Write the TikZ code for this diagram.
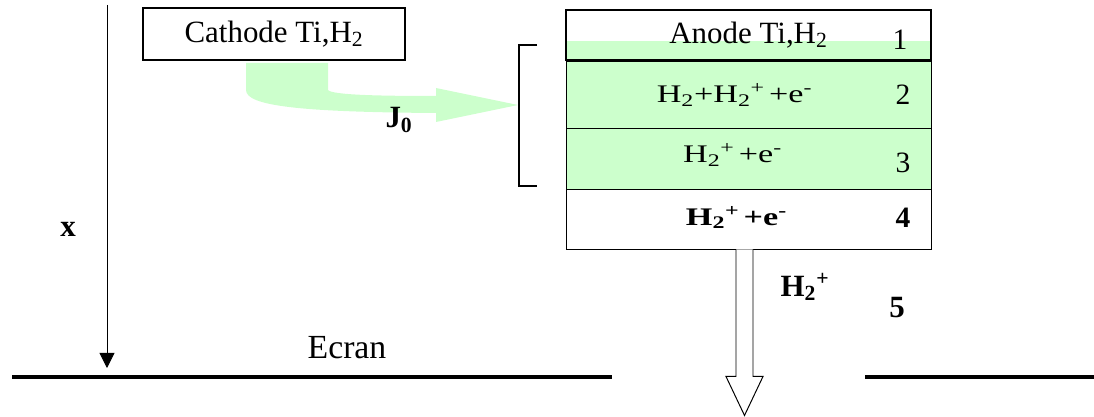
\documentclass[tikz,border=0pt]{standalone}
\usepackage{fontspec}
\setmainfont{Liberation Serif}
\newfontfamily\largo{Liberation Serif}[FakeStretch=1.35]
\usetikzlibrary{positioning, calc, arrows.meta}
\definecolor{verde}{HTML}{CCFFCC}
\newcommand{\Hdois}{H\textsubscript{2}}

\begin{document}
\begin{tikzpicture}[>={Triangle[length=0.375cm, width=0.375cm]}, node distance=0cm,
					camada/.style={draw, line width=0.7pt, minimum width=9.125cm, inner sep=0pt, outer sep=0pt},
					eletrodo/.style={draw, line width=2.1pt, inner sep=0pt, font=\fontsize{22}{25}\selectfont},
					formula/.style={inner sep=0pt, font=\largo\fontsize{18}{21}\selectfont},
					num/.style={inner sep=0pt, font=\fontsize{21}{24}\selectfont},
					rotulo/.style={inner sep=0pt, font=\bfseries\fontsize{22}{25}\selectfont} ]
	\useasboundingbox (0,0) rectangle (27.35,-10.425);

	%Eletrodos:
	\node[eletrodo, minimum width=6.55cm, minimum height=1.3cm] (catodo) at (6.85,-0.85) {Cathode Ti,\Hdois};
	\node[eletrodo, minimum width=9.125cm, minimum height=1.25cm,
		path picture={\fill[verde] ($(path picture bounding box.south west)+(0,0.475)$) rectangle (path picture bounding box.south east);}]
		(anodo) at (18.7125,-0.875) {Anode Ti,\Hdois};
	\node[num] (n1) at (22.5,-1.0) {1};

	%Camadas:
	\node[camada, fill=verde, minimum height=1.675cm, below=of anodo] (c2) {};
	\node[camada, fill=verde, minimum height=1.525cm, below=of c2] (c3) {};
	\node[camada, minimum height=1.5cm, below=of c3] (c4) {};
	\node[formula] (f2) at ($(c2.center)+(-0.35,0)$) {\Hdois+\Hdois\textsuperscript{+}\,+e\textsuperscript{-}};
	\node[formula] (f3) at ($(c3.center)+(-0.4,0.1)$) {\Hdois\textsuperscript{+}\,+e\textsuperscript{-}};
	\node[formula, font=\largo\bfseries\fontsize{18}{21}\selectfont] (f4) at ($(c4.center)+(-0.3,0.05)$) {\Hdois\textsuperscript{+}\,+e\textsuperscript{-}};
	\node[num] (n2) at ($(c2.east)+(-0.7,0)$) {2};
	\node[num] (n3) at ($(c3.east)+(-0.7,-0.1)$) {3};
	\node[num, font=\bfseries\fontsize{21}{24}\selectfont] (n4) at ($(c4.east)+(-0.7,0.05)$) {4};

	%Feixe J0 (catodo -> camadas)
	\fill[verde] (6.15,-1.575) -- (8.2,-1.575) -- (8.2,-2.25)
		.. controls (8.3,-2.38) and (9.6,-2.4) .. (10.9,-2.4) -- (10.9,-2.2) -- (12.95,-2.625)
		-- (10.9,-3.05) -- (10.9,-2.825) .. controls (7.5,-2.8) and (6.15,-2.65) .. (6.15,-2.25) -- cycle;
	\node[rotulo] (j0) at (9.975,-3.0) {J\textsubscript{0}};
	\draw[line width=1.1pt] (13.425,-1.125) -- (12.975,-1.125) -- (12.975,-4.65) -- (13.425,-4.65);

	%Saida H2+
	\coordinate (saida) at ($(c4.south)+(-0.1,0)$);
	\draw[line width=0.7pt, fill=white] ($(saida)+(-0.2125,0)$) -- ++(0,-3.175) -- ++(-0.25,0)
		-- ++(0.4625,-0.975) -- ++(0.4625,0.975) -- ++(-0.25,0) -- ++(0,3.175);
	\node[rotulo] (ion) at (20.125,-7.175) {\Hdois\textsuperscript{+}};
	\node[rotulo] (n5) at (22.425,-7.7) {5};

	%Eixo x e ecran
	\coordinate (topo) at (2.675,-0.125);
	\coordinate (fundo) at (2.675,-9.2);
	\draw[->, line width=0.6pt] (topo) -- (fundo);
	\node[rotulo, font=\bfseries\fontsize{22}{24}\selectfont] (eixo) at (1.7,-5.725) {x};
	\draw[line width=3.5pt] (0.3,-9.425) -- (15.3,-9.425);
	\draw[line width=3.5pt] (21.625,-9.425) -- (27.35,-9.425);
	\node[num, font=\fontsize{24}{27}\selectfont] (ecran) at (8.675,-8.7) {Ecran};
\end{tikzpicture}
\end{document}
